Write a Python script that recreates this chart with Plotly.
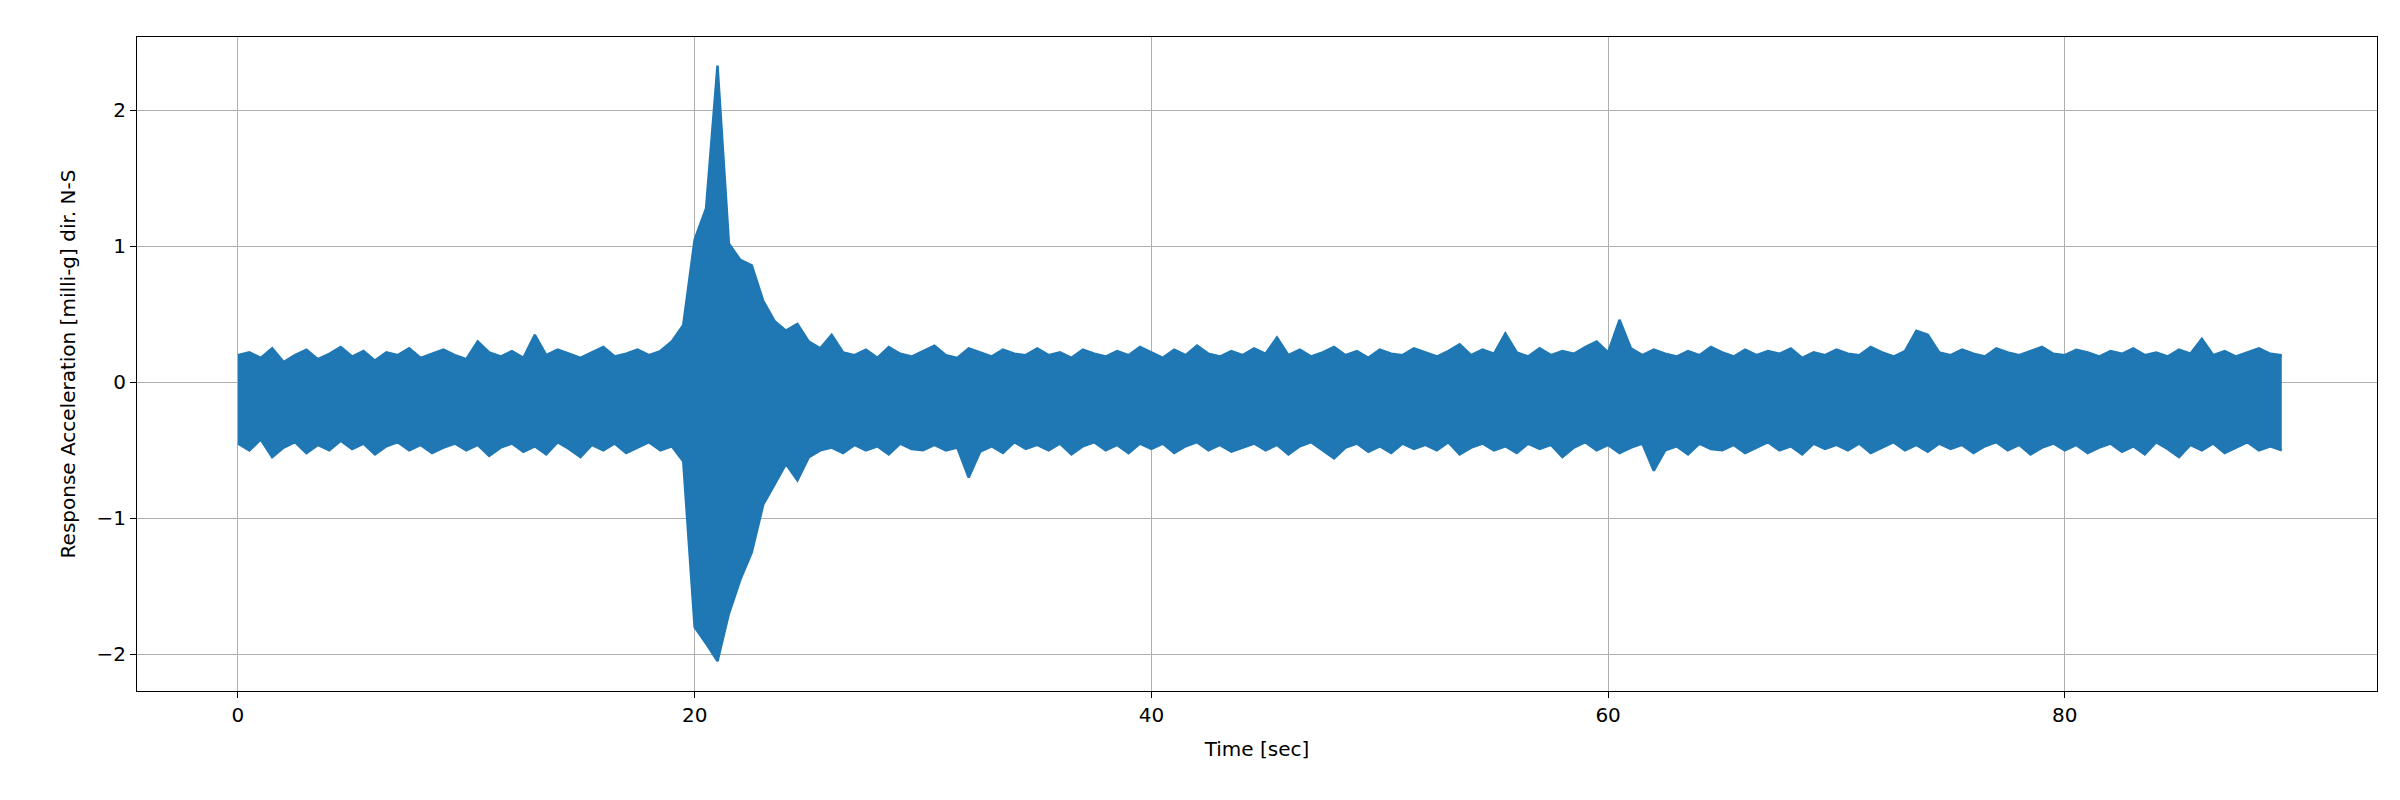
import plotly.graph_objects as go

# peak values, one high and one low per half second
dt = 0.5
highs = [0.2,0.22,0.18,0.25,0.15,0.2,0.24,0.17,0.21,0.26,
         0.19,0.23,0.16,0.22,0.2,0.25,0.18,0.21,0.24,0.2,
         0.17,0.3,0.22,0.19,0.23,0.18,0.35,0.2,0.24,0.21,
         0.18,0.22,0.26,0.19,0.21,0.24,0.2,0.23,0.3,0.42,
         1.05,1.28,2.33,1.02,0.9,0.86,0.6,0.45,0.38,0.43,
         0.3,0.25,0.35,0.22,0.2,0.24,0.18,0.26,0.21,0.19,
         0.23,0.27,0.2,0.18,0.25,0.22,0.19,0.24,0.21,0.2,
         0.25,0.2,0.22,0.18,0.24,0.21,0.19,0.23,0.2,0.26,
         0.22,0.18,0.24,0.2,0.27,0.21,0.19,0.23,0.2,0.25,
         0.21,0.33,0.2,0.24,0.19,0.22,0.26,0.2,0.23,0.18,
         0.24,0.21,0.2,0.25,0.22,0.19,0.23,0.28,0.2,0.24,
         0.21,0.36,0.22,0.19,0.25,0.2,0.23,0.21,0.26,0.3,
         0.22,0.46,0.25,0.2,0.24,0.21,0.19,0.23,0.2,0.26,
         0.22,0.19,0.24,0.2,0.23,0.21,0.25,0.18,0.22,0.2,
         0.24,0.21,0.2,0.26,0.22,0.19,0.23,0.38,0.35,0.22,
         0.2,0.24,0.21,0.19,0.25,0.22,0.2,0.23,0.26,0.21,
         0.2,0.24,0.22,0.19,0.23,0.21,0.25,0.2,0.22,0.19,
         0.24,0.21,0.32,0.2,0.23,0.19,0.22,0.25,0.21,0.2]
lows = [-0.45,-0.5,-0.42,-0.55,-0.48,-0.44,-0.52,-0.46,-0.5,-0.43,
        -0.49,-0.45,-0.53,-0.47,-0.44,-0.5,-0.46,-0.52,-0.48,-0.45,
        -0.5,-0.46,-0.54,-0.48,-0.45,-0.51,-0.47,-0.53,-0.44,-0.49,
        -0.55,-0.46,-0.5,-0.45,-0.52,-0.48,-0.44,-0.5,-0.47,-0.58,
        -1.8,-1.92,-2.05,-1.7,-1.45,-1.25,-0.9,-0.75,-0.6,-0.72,
        -0.55,-0.5,-0.48,-0.52,-0.46,-0.5,-0.47,-0.53,-0.45,-0.49,
        -0.5,-0.46,-0.5,-0.48,-0.7,-0.51,-0.47,-0.52,-0.44,-0.49,
        -0.46,-0.5,-0.45,-0.53,-0.47,-0.44,-0.5,-0.46,-0.52,-0.45,
        -0.49,-0.45,-0.52,-0.47,-0.44,-0.5,-0.46,-0.51,-0.48,-0.45,
        -0.5,-0.46,-0.53,-0.47,-0.44,-0.5,-0.56,-0.48,-0.45,-0.51,
        -0.47,-0.52,-0.45,-0.49,-0.46,-0.5,-0.44,-0.53,-0.48,-0.45,
        -0.5,-0.47,-0.52,-0.45,-0.49,-0.46,-0.55,-0.48,-0.44,-0.5,
        -0.46,-0.52,-0.48,-0.45,-0.65,-0.5,-0.47,-0.53,-0.45,-0.49,
        -0.5,-0.46,-0.52,-0.48,-0.44,-0.5,-0.47,-0.53,-0.45,-0.49,
        -0.46,-0.5,-0.45,-0.52,-0.48,-0.44,-0.5,-0.46,-0.51,-0.45,
        -0.49,-0.46,-0.52,-0.47,-0.44,-0.5,-0.46,-0.53,-0.48,-0.45,
        -0.5,-0.46,-0.52,-0.48,-0.45,-0.51,-0.47,-0.53,-0.44,-0.49,
        -0.55,-0.46,-0.5,-0.45,-0.52,-0.48,-0.44,-0.5,-0.47,-0.5]

t = [i * dt for i in range(len(highs))]
blue = '#1f77b4'

fig = go.Figure()
# the record is so dense it reads as a solid band between its peaks
fig.add_trace(go.Scatter(x=t, y=lows, mode='lines', line=dict(color=blue, width=2.5)))
fig.add_trace(go.Scatter(x=t, y=highs, mode='lines', line=dict(color=blue, width=2.5),
                         fill='tonexty', fillcolor=blue))

axis = dict(showline=True, linecolor='black', mirror=True, ticks='outside',
            ticklen=6, tickcolor='black', showgrid=True, gridcolor='#b0b0b0',
            zeroline=False, tickfont=dict(size=20))
fig.update_layout(width=2400, height=800, plot_bgcolor='white', paper_bgcolor='white',
                  font=dict(family='DejaVu Sans', color='black'),
                  margin=dict(l=129, r=31, t=29, b=117), showlegend=False)
fig.update_xaxes(axis, range=[-4.42, 93.67], dtick=20,
                 title=dict(text='Time [sec]', font=dict(size=20)))
fig.update_yaxes(axis, range=[-2.27, 2.54], dtick=1,
                 title=dict(text='Response Acceleration [milli-g] dir. N-S', font=dict(size=20)))
fig.write_html("out.html")
